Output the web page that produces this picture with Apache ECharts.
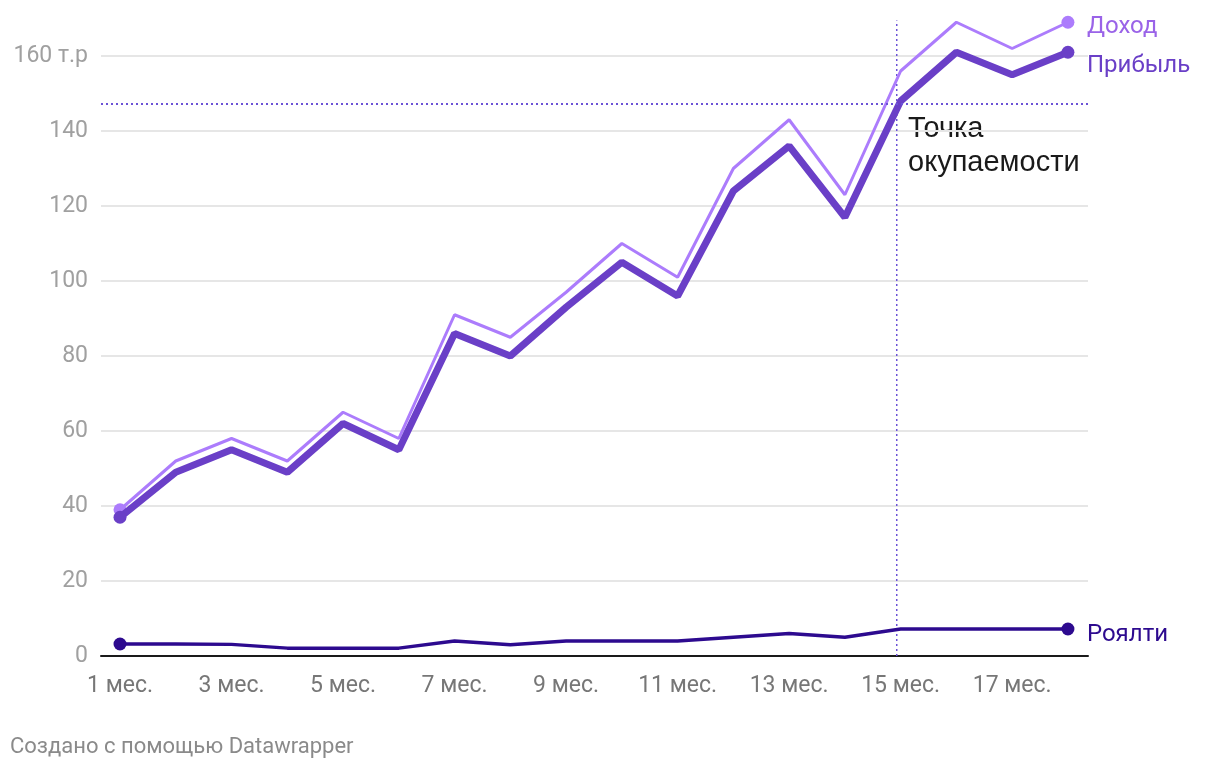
<!DOCTYPE html>
<html><head><meta charset="utf-8">
<script src="https://cdn.jsdelivr.net/npm/echarts@6/dist/echarts.min.js"></script>
<style>html,body{margin:0;padding:0;background:#fff}#c{width:1220px;height:772px}</style>
</head><body><div id="c"></div>
<script>
const months = [1,2,3,4,5,6,7,8,9,10,11,12,13,14,15,16,17,18];
const monthTicks = [1,3,5,7,9,11,13,15,17];
const income = [39,52,58,52,65,58,91,85,97,110,101,130,143,123,156,169,162,169];
const profit = [37,49,55,49,62,55,86,80,93,105,96,124,136,117,148,161,155,161];
const royalty = [3.2,3.2,3.1,2.1,2.1,2.1,4,3,4,4,4,5,6,5,7.2,7.2,7.2,7.2];
const yTicks = [0,20,40,60,80,100,120,140,160];
const breakEvenValue = 147.2;
const breakEvenMonth = 14.93;
const breakEvenTop = 169.5;
const annotation = 'Точка\nокупаемости';

function mk(arr){
  return arr.map((v,i)=>{
    const d = {value:[months[i], v]};
    if(i===0 || i===arr.length-1){ d.symbol='circle'; d.symbolSize=13; }
    else { d.symbol='none'; }
    return d;
  });
}
const font = 'Roboto, "Noto Sans", sans-serif';
const chart = echarts.init(document.getElementById('c'));
chart.setOption({
  animation:false,
  backgroundColor:'#fff',
  grid:{left:101,right:132,top:56,bottom:116,containLabel:false},
  xAxis:{type:'value',min:0.659,max:18.36,
    axisLine:{show:true,lineStyle:{color:'#1a1a1a',width:2}},
    axisTick:{show:false},splitLine:{show:false},
    axisLabel:{customValues:monthTicks,formatter:v=>v+' мес.',color:'#777',fontSize:23,fontFamily:font,margin:19}
  },
  yAxis:{type:'value',min:0,max:160,interval:20,
    axisLine:{show:false},axisTick:{show:false},
    splitLine:{show:true,lineStyle:{color:'#e6e6e6',width:2}},
    axisLabel:{color:'#a0a0a0',fontSize:23,fontFamily:font,margin:13,padding:[5,0,0,0],
      formatter:v=> yTicks.indexOf(v)<0?'':(v===160?'160 т.р':String(v))}
  },
  series:[
    {name:'Доход',type:'line',data:mk(income),clip:false,
      lineStyle:{color:'#ac7cfc',width:3},itemStyle:{color:'#ac7cfc'},
      endLabel:{show:true,formatter:'Доход',color:'#9a63e8',fontSize:24,fontFamily:font,distance:19,offset:[0,5]},
      z:2},
    {name:'Прибыль',type:'line',data:mk(profit),clip:false,
      lineStyle:{color:'#6a3fc7',width:7},itemStyle:{color:'#6a3fc7'},
      endLabel:{show:true,formatter:'Прибыль',color:'#6a3fc7',fontSize:24,fontFamily:font,distance:19,offset:[0,14]},
      z:3,
      markLine:{silent:true,symbol:'none',label:{show:false},
        data:[
          [{coord:[0.659,breakEvenValue]},{coord:[18.36,breakEvenValue]}]
        ],
        lineStyle:{color:'#6b52d6',width:2,type:[2,3]}}
    },
    {name:'Роялти',type:'line',data:mk(royalty),clip:false,
      lineStyle:{color:'#2d0a8f',width:3.5},itemStyle:{color:'#2d0a8f'},
      endLabel:{show:true,formatter:'Роялти',color:'#2d0a8f',fontSize:24,fontFamily:font,distance:19,offset:[0,6]},
      z:4},
    {name:'breakEven',type:'line',silent:true,clip:false,symbol:'none',
      data:[[breakEvenMonth,0],[breakEvenMonth,breakEvenTop]],
      lineStyle:{color:'#6b52d6',width:1.5,type:[2,3]},z:1}
  ],
  graphic:[
    {type:'text',left:908,top:112,style:{text:annotation,font:'29px "Liberation Sans", Arial, sans-serif',fill:'#1a1a1a',lineHeight:34}},
    {type:'text',left:10,top:736,style:{text:'Создано с помощью Datawrapper',font:'22px Roboto, sans-serif',fill:'#8a8a8a'}}
  ]
});
</script></body></html>
